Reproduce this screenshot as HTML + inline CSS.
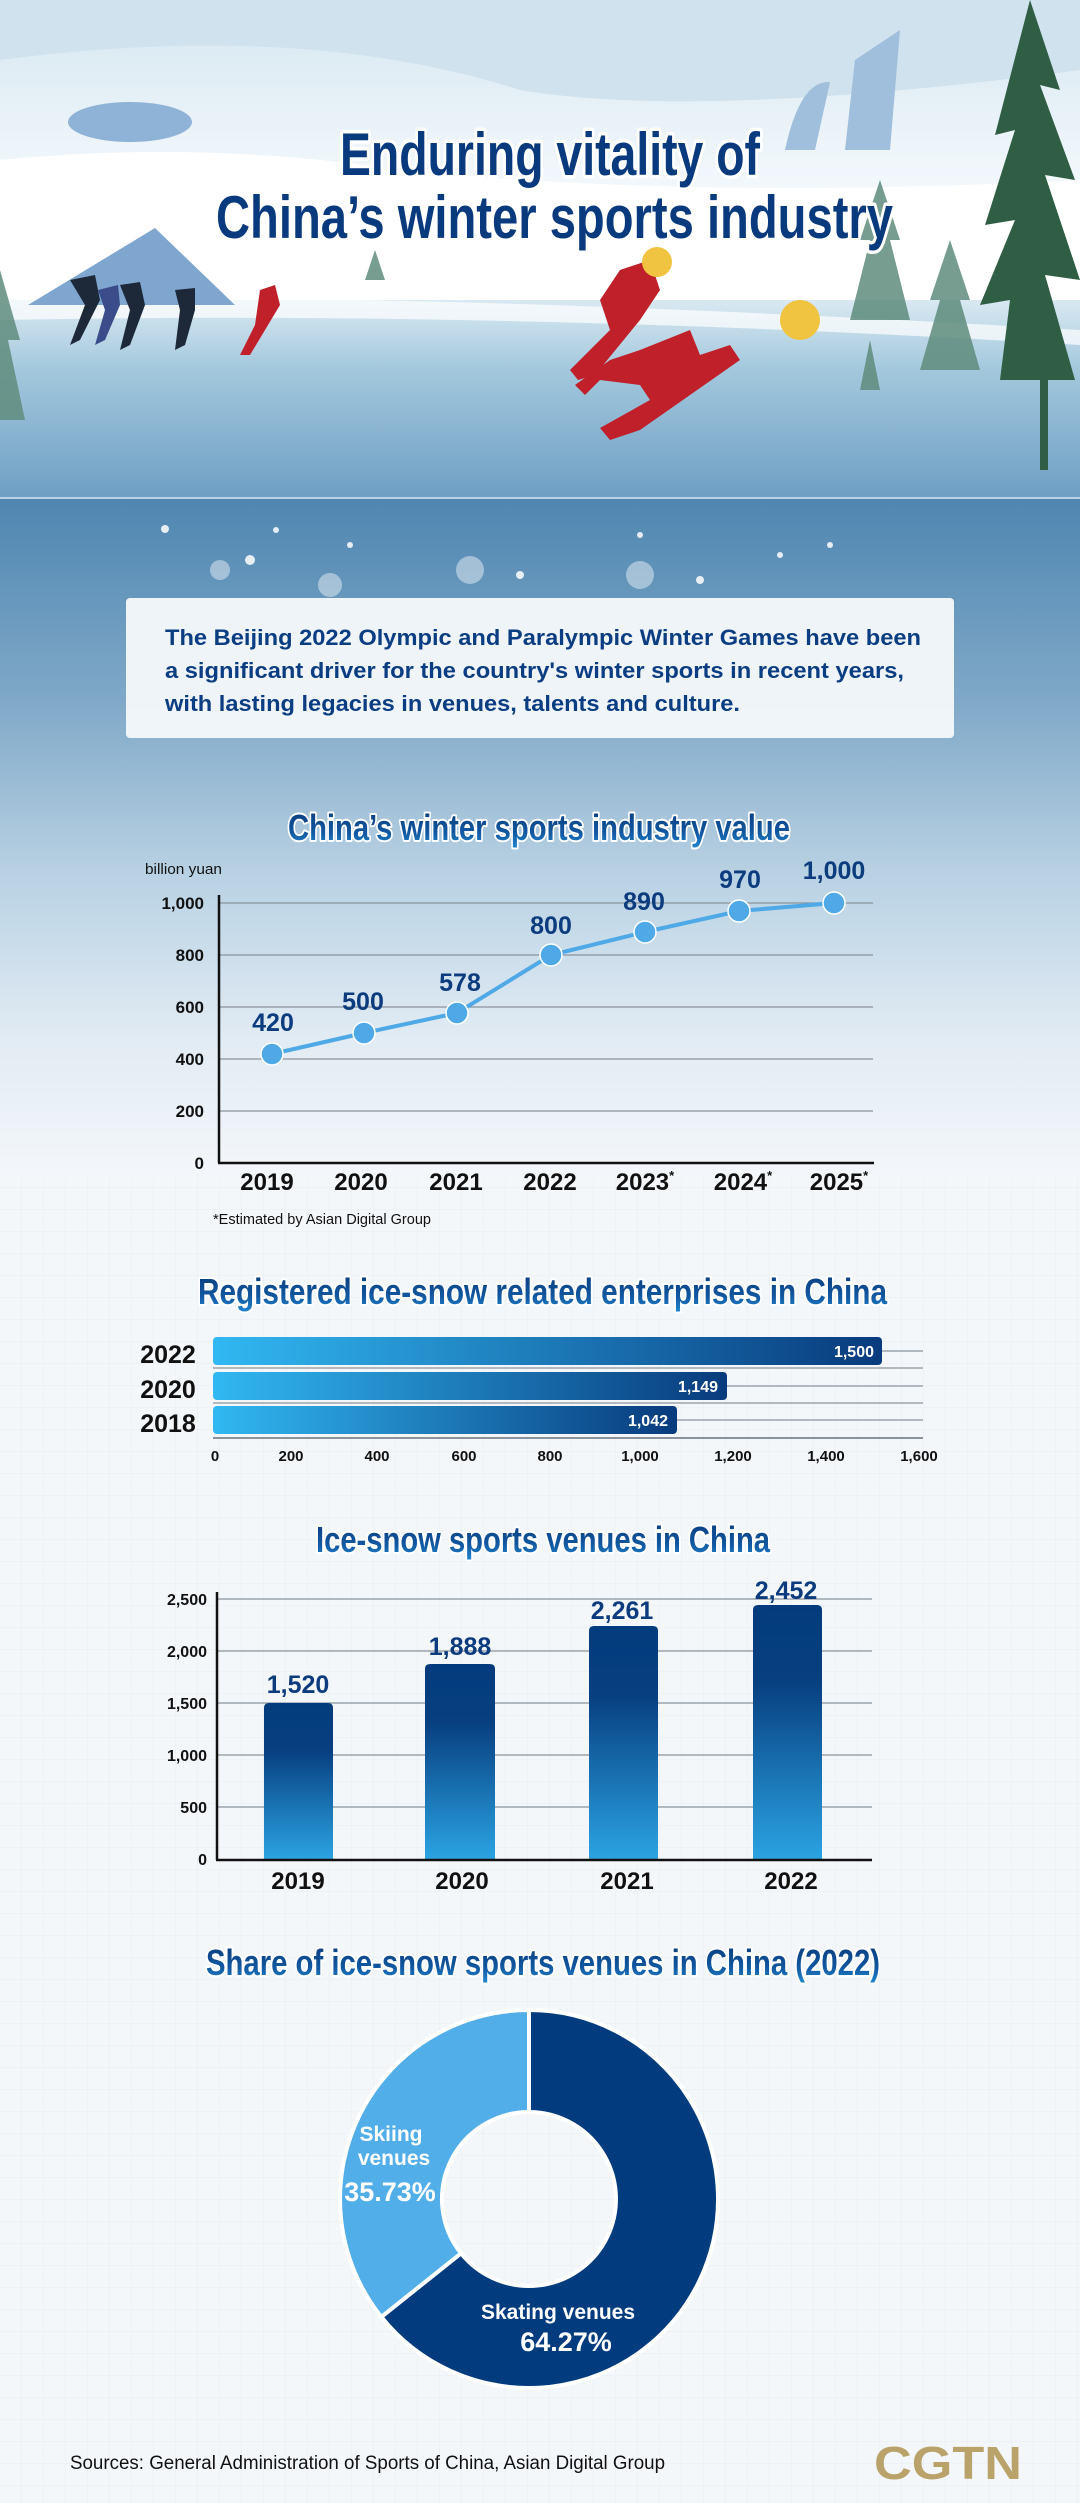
<!DOCTYPE html>
<html><head><meta charset="utf-8"><style>
html,body{margin:0;padding:0;background:#f4f7fa}
svg{display:block}
text{font-family:"Liberation Sans",sans-serif;font-weight:bold}
</style></head><body>
<svg width="1080" height="2503" viewBox="0 0 1080 2503" xmlns="http://www.w3.org/2000/svg">
<defs>
<linearGradient id="bg" x1="0" y1="0" x2="0" y2="1">
<stop offset="0" stop-color="#4f86b1"/><stop offset="0.3" stop-color="#80a9c8"/><stop offset="0.55" stop-color="#b8d1e3"/><stop offset="0.8" stop-color="#e2ecf4"/><stop offset="1" stop-color="#f4f7fa"/>
</linearGradient>
<linearGradient id="sky" x1="0" y1="0" x2="0" y2="1">
<stop offset="0" stop-color="#d4e6f1"/><stop offset="0.5" stop-color="#eef5fa"/><stop offset="1" stop-color="#ffffff"/>
</linearGradient>
<linearGradient id="ice" x1="0" y1="0" x2="0" y2="1">
<stop offset="0" stop-color="#d9e9f2"/><stop offset="0.35" stop-color="#a3c8dd"/><stop offset="1" stop-color="#6e9fc4"/>
</linearGradient>
<linearGradient id="tg" x1="0" y1="0" x2="0" y2="1">
<stop offset="0" stop-color="#0a3a7c"/><stop offset="0.6" stop-color="#11569e"/><stop offset="1" stop-color="#1f86cf"/>
</linearGradient>
<linearGradient id="hb" x1="0" y1="0" x2="1" y2="0">
<stop offset="0" stop-color="#31b8f2"/><stop offset="1" stop-color="#083b7d"/>
</linearGradient>
<linearGradient id="vb" x1="0" y1="0" x2="0" y2="1">
<stop offset="0" stop-color="#033c7e"/><stop offset="0.3" stop-color="#073f80"/><stop offset="1" stop-color="#2ba3e2"/>
</linearGradient>
<pattern id="grid" width="22" height="22" patternUnits="userSpaceOnUse">
<path d="M22 0V22H0" fill="none" stroke="#e3eaf1" stroke-width="1"/>
</pattern>
</defs>

<rect x="0" y="0" width="1080" height="2503" fill="#f4f7fa"/>
<rect x="0" y="1100" width="1080" height="1403" fill="url(#grid)" opacity="0.7"/>
<rect x="0" y="498" width="1080" height="680" fill="url(#bg)"/>
<rect x="0" y="0" width="1080" height="300" fill="url(#sky)"/>
<path d="M0 60 Q300 20 520 90 Q700 120 1080 70 L1080 0 L0 0Z" fill="#cfe2ee"/>
<path d="M0 160 Q200 140 400 170 Q700 200 1080 180 L1080 320 L0 320Z" fill="#ffffff"/>
<rect x="0" y="300" width="1080" height="198" fill="url(#ice)"/>
<path d="M0 300 Q400 290 1080 330 L1080 345 Q500 310 0 320Z" fill="#ffffff" opacity="0.7"/>
<line x1="0" y1="498" x2="1080" y2="498" stroke="#b8d3e6" stroke-width="2"/>
<path d="M28 305 L155 228 L235 305Z" fill="#7fa6cf"/>
<ellipse cx="130" cy="122" rx="62" ry="20" fill="#8fb3d6"/>
<path d="M785 150 Q800 80 830 82 L815 150Z" fill="#9fbfdc"/>
<path d="M845 150 L855 60 L900 30 L890 150Z" fill="#9fbfdc"/>
<g fill="#2f5e45">
<path d="M1030 0 L1060 90 L1040 85 L1075 180 L1045 175 L1080 280 L1045 275 L1075 380 L1000 380 L1010 300 L980 305 L1015 220 L985 225 L1015 130 L995 135Z"/>
<rect x="1040" y="370" width="8" height="100"/>
</g>
<g fill="#5f8c7c" opacity="0.85">
<path d="M0 270 L20 340 L8 340 L25 420 L0 420Z"/>
<path d="M950 240 L970 300 L960 300 L980 370 L920 370 L940 300 L930 300Z"/>
<path d="M880 180 L900 240 L890 240 L910 320 L850 320 L870 240 L860 240Z"/>
<path d="M375 250 L385 280 L365 280Z"/>
<path d="M870 340 L880 390 L860 390Z"/>
</g>
<g fill="#c0202a">
<path d="M640 350 L690 330 L700 355 L730 345 L740 360 L690 395 L640 430 L610 440 L600 428 L650 400 L640 385 L600 380 L585 395 L575 385 L610 360Z"/>
<path d="M620 270 L650 260 L660 290 L640 320 L595 375 L578 380 L570 370 L610 330 L600 300Z"/>
<path d="M260 290 L275 285 L280 305 L265 330 L250 355 L240 355 L255 325Z"/>
</g>
<circle cx="800" cy="320" r="20" fill="#f0c440"/>
<circle cx="657" cy="262" r="15" fill="#f0c440"/>
<g fill="#1d2838">
<path d="M70 280 L95 275 L100 300 L80 340 L70 345 L85 305Z"/>
<path d="M120 285 L140 282 L145 305 L130 345 L120 350 L130 310Z"/>
<path d="M175 290 L195 288 L195 310 L185 345 L175 350 L180 310Z"/>
</g>
<path d="M98 290 L118 285 L120 305 L105 340 L95 345 L105 310Z" fill="#3a4d8a"/>

<g font-size="60" fill="#093a7e" stroke="#ffffff" stroke-width="7" stroke-linejoin="round" paint-order="stroke">
<text x="340" y="175" textLength="420" lengthAdjust="spacingAndGlyphs">Enduring vitality of</text>
<text x="216" y="238" textLength="677" lengthAdjust="spacingAndGlyphs">China’s winter sports industry</text>
</g>

<g fill="#ffffff" opacity="0.85">
<circle cx="165" cy="529" r="4"/><circle cx="276" cy="530" r="3"/><circle cx="350" cy="545" r="3"/><circle cx="640" cy="535" r="3"/><circle cx="780" cy="555" r="3"/><circle cx="250" cy="560" r="5"/><circle cx="520" cy="575" r="4"/><circle cx="700" cy="580" r="4"/><circle cx="830" cy="545" r="3"/>
<circle cx="470" cy="570" r="14" opacity="0.5"/><circle cx="640" cy="575" r="14" opacity="0.5"/><circle cx="330" cy="585" r="12" opacity="0.5"/><circle cx="220" cy="570" r="10" opacity="0.5"/>
</g>

<rect x="126" y="598" width="828" height="140" rx="4" fill="#f3f7fa" opacity="0.97"/>
<g font-size="22" fill="#0b3d82">
<text x="165" y="645" textLength="756" lengthAdjust="spacingAndGlyphs">The Beijing 2022 Olympic and Paralympic Winter Games have been</text>
<text x="165" y="678" textLength="739" lengthAdjust="spacingAndGlyphs">a significant driver for the country's winter sports in recent years,</text>
<text x="165" y="711" textLength="575" lengthAdjust="spacingAndGlyphs">with lasting legacies in venues, talents and culture.</text>
</g>

<g font-size="36" fill="url(#tg)" stroke="#ffffff" stroke-width="4" stroke-linejoin="round" paint-order="stroke">
<text x="288" y="840" textLength="502" lengthAdjust="spacingAndGlyphs">China’s winter sports industry value</text>
<text x="198" y="1304" textLength="689" lengthAdjust="spacingAndGlyphs">Registered ice-snow related enterprises in China</text>
<text x="316" y="1552" textLength="454" lengthAdjust="spacingAndGlyphs">Ice-snow sports venues in China</text>
<text x="206" y="1975" textLength="674" lengthAdjust="spacingAndGlyphs">Share of ice-snow sports venues in China (2022)</text>
</g>

<text x="145" y="874" font-size="15" fill="#111" style="font-weight:normal" textLength="77" lengthAdjust="spacingAndGlyphs">billion yuan</text>
<g stroke="#8a939c" stroke-width="1.2">
<line x1="219" y1="903" x2="873" y2="903"/><line x1="219" y1="955" x2="873" y2="955"/><line x1="219" y1="1007" x2="873" y2="1007"/><line x1="219" y1="1059" x2="873" y2="1059"/><line x1="219" y1="1111" x2="873" y2="1111"/>
</g>
<line x1="219" y1="895" x2="219" y2="1163" stroke="#111" stroke-width="2.5"/>
<line x1="218" y1="1163" x2="874" y2="1163" stroke="#111" stroke-width="2.5"/>
<g font-size="17" fill="#111" text-anchor="end">
<text x="204" y="909">1,000</text><text x="204" y="961">800</text><text x="204" y="1013">600</text><text x="204" y="1065">400</text><text x="204" y="1117">200</text><text x="204" y="1169">0</text>
</g>
<polyline points="272,1054 364,1033 457,1013 551,955 645,932 739,911 834,903" fill="none" stroke="#4fa9e6" stroke-width="4"/>
<g fill="#4fa9e6" stroke="#ffffff" stroke-width="1.5">
<circle cx="272" cy="1054" r="11"/><circle cx="364" cy="1033" r="11"/><circle cx="457" cy="1013" r="11"/><circle cx="551" cy="955" r="11"/><circle cx="645" cy="932" r="11"/><circle cx="739" cy="911" r="11"/><circle cx="834" cy="903" r="11"/>
</g>
<g font-size="25" fill="#0c3b7e" text-anchor="middle">
<text x="273" y="1031">420</text><text x="363" y="1010">500</text><text x="460" y="991">578</text><text x="551" y="934">800</text><text x="644" y="910">890</text><text x="740" y="888">970</text><text x="834" y="879">1,000</text>
</g>
<g font-size="24" fill="#111" text-anchor="middle">
<text x="267" y="1190">2019</text><text x="361" y="1190">2020</text><text x="456" y="1190">2021</text><text x="550" y="1190">2022</text><text x="645" y="1190">2023<tspan font-size="13" dy="-10">*</tspan></text><text x="743" y="1190">2024<tspan font-size="13" dy="-10">*</tspan></text><text x="839" y="1190">2025<tspan font-size="13" dy="-10">*</tspan></text>
</g>
<text x="213" y="1224" font-size="15" fill="#111" style="font-weight:normal" textLength="218" lengthAdjust="spacingAndGlyphs">*Estimated by Asian Digital Group</text>

<g stroke="#8a939c" stroke-width="1.2">
<line x1="213" y1="1351" x2="923" y2="1351"/><line x1="213" y1="1368" x2="923" y2="1368"/><line x1="213" y1="1386" x2="923" y2="1386"/><line x1="213" y1="1403" x2="923" y2="1403"/><line x1="213" y1="1420" x2="923" y2="1420"/>
</g>
<line x1="213" y1="1438" x2="923" y2="1438" stroke="#8a939c" stroke-width="2"/>
<rect x="213" y="1337" width="669" height="28" rx="4" fill="url(#hb)"/>
<rect x="213" y="1372" width="514" height="28" rx="4" fill="url(#hb)"/>
<rect x="213" y="1406" width="464" height="28" rx="4" fill="url(#hb)"/>
<g font-size="16" fill="#ffffff" text-anchor="end">
<text x="874" y="1357">1,500</text><text x="718" y="1392">1,149</text><text x="668" y="1426">1,042</text>
</g>
<g font-size="25" fill="#111" text-anchor="middle">
<text x="168" y="1363">2022</text><text x="168" y="1398">2020</text><text x="168" y="1432">2018</text>
</g>
<g font-size="15" fill="#111" text-anchor="middle">
<text x="215" y="1461">0</text><text x="291" y="1461">200</text><text x="377" y="1461">400</text><text x="464" y="1461">600</text><text x="550" y="1461">800</text><text x="640" y="1461">1,000</text><text x="733" y="1461">1,200</text><text x="826" y="1461">1,400</text><text x="919" y="1461">1,600</text>
</g>

<g stroke="#8a939c" stroke-width="1.2">
<line x1="217" y1="1599" x2="872" y2="1599"/><line x1="217" y1="1651" x2="872" y2="1651"/><line x1="217" y1="1703" x2="872" y2="1703"/><line x1="217" y1="1755" x2="872" y2="1755"/><line x1="217" y1="1807" x2="872" y2="1807"/>
</g>
<path d="M264 1859 V1708 Q264 1703 269 1703 H328 Q333 1703 333 1708 V1859Z" fill="url(#vb)"/>
<path d="M425 1859 V1669 Q425 1664 430 1664 H490 Q495 1664 495 1669 V1859Z" fill="url(#vb)"/>
<path d="M589 1859 V1631 Q589 1626 594 1626 H653 Q658 1626 658 1631 V1859Z" fill="url(#vb)"/>
<path d="M753 1859 V1610 Q753 1605 758 1605 H817 Q822 1605 822 1610 V1859Z" fill="url(#vb)"/>
<line x1="217" y1="1592" x2="217" y2="1860" stroke="#111" stroke-width="2.5"/>
<line x1="216" y1="1860" x2="872" y2="1860" stroke="#111" stroke-width="2.5"/>
<g font-size="16" fill="#111" text-anchor="end">
<text x="207" y="1605">2,500</text><text x="207" y="1657">2,000</text><text x="207" y="1709">1,500</text><text x="207" y="1761">1,000</text><text x="207" y="1813">500</text><text x="207" y="1865">0</text>
</g>
<g font-size="25" fill="#0c3b7e" text-anchor="middle">
<text x="298" y="1693">1,520</text><text x="460" y="1655">1,888</text><text x="622" y="1619">2,261</text><text x="786" y="1599">2,452</text>
</g>
<g font-size="24" fill="#111" text-anchor="middle">
<text x="298" y="1889">2019</text><text x="462" y="1889">2020</text><text x="627" y="1889">2021</text><text x="791" y="1889">2022</text>
</g>

<path d="M529 2010 A189 189 0 1 1 381.3 2316.9 L461 2253.3 A87 87 0 1 0 529 2112 Z" fill="#033c7e" stroke="#ffffff" stroke-width="4"/>
<path d="M381.3 2316.9 A189 189 0 0 1 529 2010 L529 2112 A87 87 0 0 0 461 2253.3 Z" fill="#52aee8" stroke="#ffffff" stroke-width="4"/>
<g fill="#ffffff" text-anchor="middle">
<text x="391" y="2141" font-size="21">Skiing</text>
<text x="394" y="2165" font-size="21">venues</text>
<text x="390" y="2201" font-size="27">35.73%</text>
<text x="558" y="2319" font-size="21">Skating venues</text>
<text x="566" y="2351" font-size="27">64.27%</text>
</g>

<text x="70" y="2469" font-size="19" fill="#111" style="font-weight:normal" textLength="595" lengthAdjust="spacingAndGlyphs">Sources: General Administration of Sports of China, Asian Digital Group</text>
<text x="874" y="2479" font-size="46" fill="#b9a36a" textLength="148" lengthAdjust="spacingAndGlyphs">CGTN</text>
</svg>
</body></html>
